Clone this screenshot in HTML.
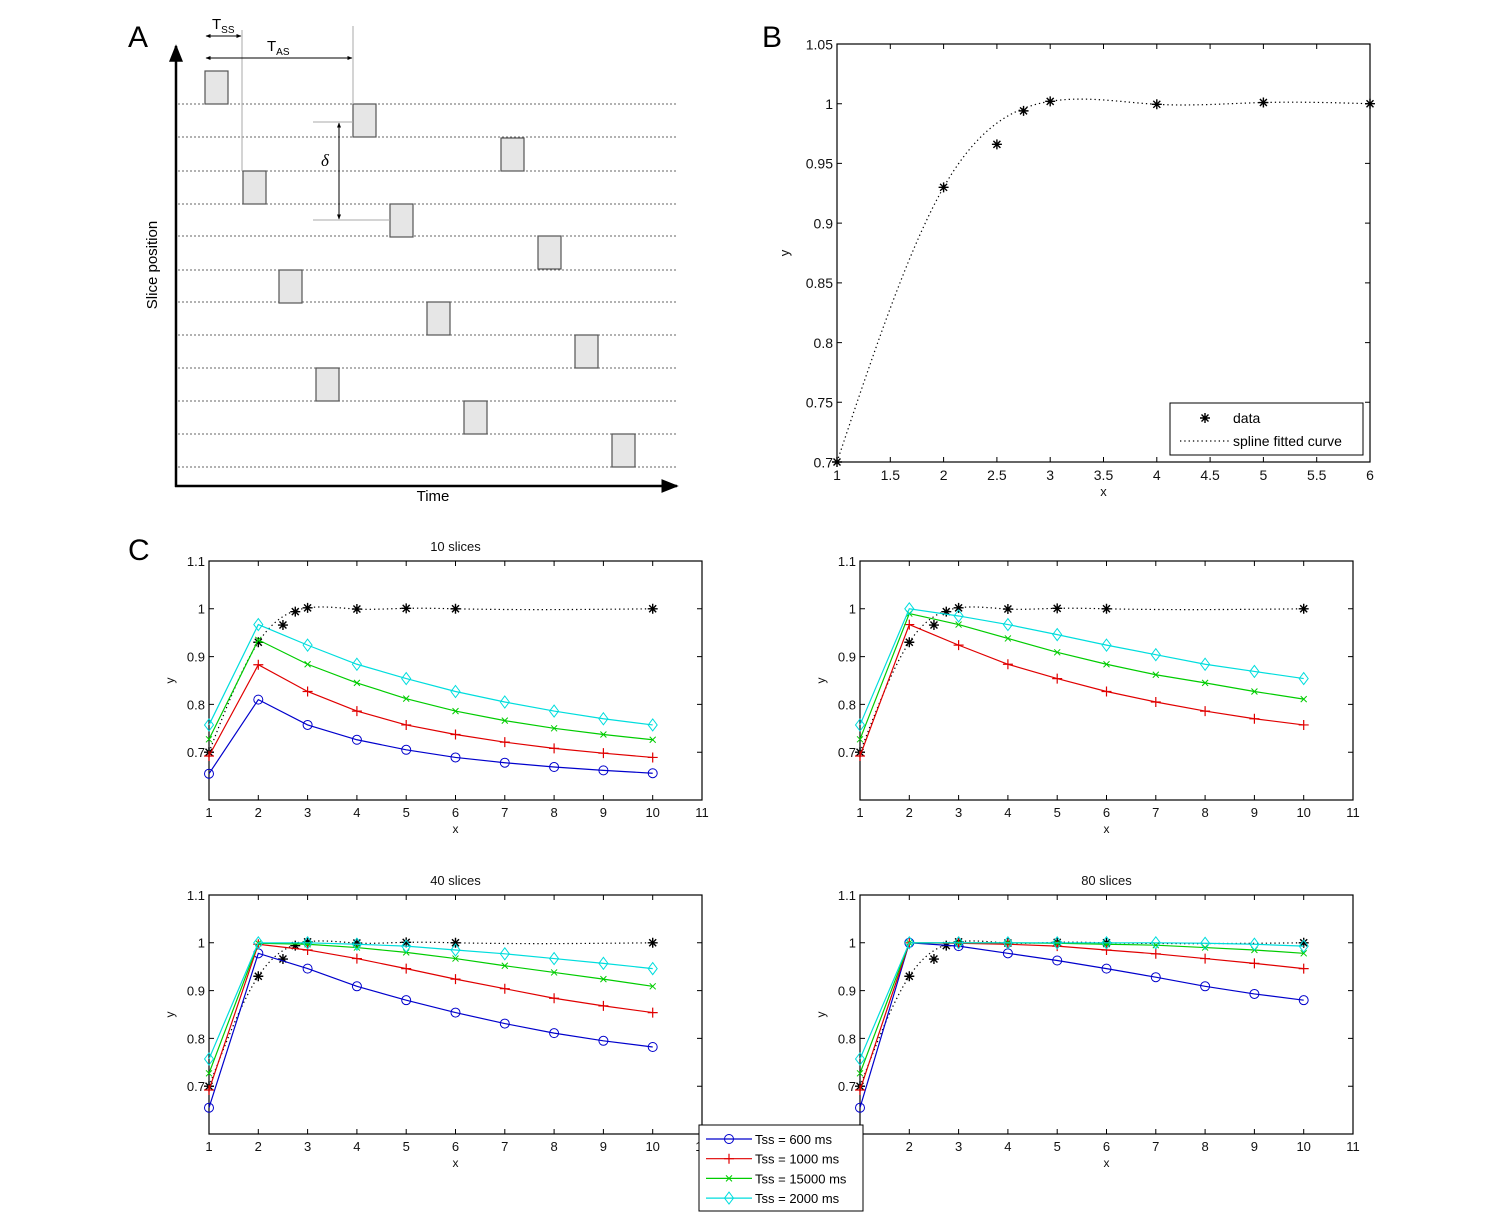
<!DOCTYPE html>
<html><head><meta charset="utf-8">
<style>
html,body{margin:0;padding:0;background:#fff;}
svg{display:block;font-family:"Liberation Sans",sans-serif;}
</style></head>
<body>
<svg id="fig" width="1494" height="1217" viewBox="0 0 1494 1217" xmlns="http://www.w3.org/2000/svg">
<defs>
<marker id="ah" viewBox="0 0 10 10" refX="9" refY="5" markerWidth="7" markerHeight="7" orient="auto-start-reverse"><path d="M0,1 L10,5 L0,9 z" fill="#000"/></marker>
<marker id="ahs" viewBox="0 0 10 10" refX="9" refY="5" markerWidth="5" markerHeight="5" orient="auto-start-reverse"><path d="M0,1 L10,5 L0,9 z" fill="#000"/></marker>
</defs>
<text x="128" y="47" font-size="30">A</text>
<text x="762" y="47" font-size="30">B</text>
<text x="128" y="560" font-size="30">C</text>
<g id="panelA"></g>
<g id="panelB"></g>
<g id="panelC"></g>
</svg>
<script>
// ---------- DATA ----------
const dataX = [1, 2, 2.5, 2.75, 3, 4, 5, 6];
const dataY = [0.7, 0.93, 0.966, 0.994, 1.002, 0.9995, 1.001, 1.0];
const cDataX = [1, 2, 2.5, 2.75, 3, 4, 5, 6, 10];
const cDataY = [0.7, 0.93, 0.966, 0.994, 1.002, 0.9995, 1.001, 1.0, 1.0];
const cX = [1, 2, 3, 4, 5, 6, 7, 8, 9, 10];
const s10Blue  = [0.655, 0.81, 0.757, 0.726, 0.705, 0.689, 0.678, 0.669, 0.662, 0.656];
const s10Red   = [0.692, 0.883, 0.827, 0.786, 0.757, 0.737, 0.721, 0.708, 0.698, 0.689];
const s10Green = [0.727, 0.935, 0.884, 0.845, 0.812, 0.786, 0.766, 0.75, 0.737, 0.726];
const s10Cyan  = [0.757, 0.967, 0.924, 0.884, 0.854, 0.827, 0.805, 0.786, 0.77, 0.757];
const s20Red   = [0.692, 0.967, 0.924, 0.884, 0.854, 0.827, 0.805, 0.786, 0.77, 0.757];
const s20Green = [0.727, 0.99, 0.967, 0.938, 0.909, 0.884, 0.862, 0.845, 0.827, 0.811];
const s20Cyan  = [0.757, 1.0, 0.985, 0.967, 0.946, 0.924, 0.904, 0.884, 0.869, 0.854];
const s40Blue  = [0.655, 0.978, 0.946, 0.909, 0.88, 0.854, 0.831, 0.811, 0.795, 0.782];
const s40Red   = [0.692, 0.997, 0.985, 0.967, 0.946, 0.924, 0.904, 0.884, 0.868, 0.854];
const s40Green = [0.727, 0.999, 0.997, 0.99, 0.98, 0.967, 0.952, 0.938, 0.924, 0.909];
const s40Cyan  = [0.757, 1.0, 1.0, 0.997, 0.993, 0.985, 0.977, 0.967, 0.957, 0.946];
const s80Blue  = [0.655, 1.0, 0.993, 0.978, 0.963, 0.946, 0.928, 0.909, 0.893, 0.88];
const s80Red   = [0.692, 1.0, 0.999, 0.997, 0.993, 0.985, 0.977, 0.967, 0.957, 0.946];
const s80Green = [0.727, 1.0, 1.0, 1.0, 0.999, 0.997, 0.995, 0.99, 0.985, 0.978];
const s80Cyan  = [0.757, 1.0, 1.0, 1.0, 1.0, 1.0, 1.0, 0.999, 0.997, 0.993];
const bXTicks = [1, 1.5, 2, 2.5, 3, 3.5, 4, 4.5, 5, 5.5, 6];
const bYTicks = [0.7, 0.75, 0.8, 0.85, 0.9, 0.95, 1, 1.05];
const cXTicks = [1, 2, 3, 4, 5, 6, 7, 8, 9, 10, 11];
const cYTicks = [0.7, 0.8, 0.9, 1, 1.1];
const legendLabels = ["Tss = 600 ms", "Tss = 1000 ms", "Tss = 15000 ms", "Tss = 2000 ms"];
// indices of data points used as spline knots (smoothed fit skips 2.5, 2.75)
const splineKnots = [0, 1, 4, 5, 6, 7];
const cSplineKnots = [0, 1, 4, 5, 6, 7, 8];

// ---------- helpers ----------
const NS = "http://www.w3.org/2000/svg";
function mk(parent, tag, attrs, text) {
  const e = document.createElementNS(NS, tag);
  for (const k in attrs) e.setAttribute(k, attrs[k]);
  if (text !== undefined) e.textContent = text;
  parent.appendChild(e);
  return e;
}
function fmt(v) { return String(+v.toFixed(2)); }

function spline(xs, ys) {
  const n = xs.length, h = [], a = [], l = [1], mu = [0], z = [0], c = new Array(n).fill(0), b = [], d = [];
  for (let i = 0; i < n - 1; i++) h.push(xs[i + 1] - xs[i]);
  for (let i = 1; i < n - 1; i++) a[i] = 3 / h[i] * (ys[i + 1] - ys[i]) - 3 / h[i - 1] * (ys[i] - ys[i - 1]);
  for (let i = 1; i < n - 1; i++) {
    l[i] = 2 * (xs[i + 1] - xs[i - 1]) - h[i - 1] * mu[i - 1];
    mu[i] = h[i] / l[i];
    z[i] = (a[i] - h[i - 1] * z[i - 1]) / l[i];
  }
  for (let j = n - 2; j >= 0; j--) {
    c[j] = (j === 0 ? 0 : z[j] - mu[j] * c[j + 1]);
    b[j] = (ys[j + 1] - ys[j]) / h[j] - h[j] * (c[j + 1] + 2 * c[j]) / 3;
    d[j] = (c[j + 1] - c[j]) / (3 * h[j]);
  }
  return function (x) {
    let i = 0;
    while (i < n - 2 && x > xs[i + 1]) i++;
    const dx = x - xs[i];
    return ys[i] + b[i] * dx + c[i] * dx * dx + d[i] * dx * dx * dx;
  };
}

function marker(g, type, x, y, color) {
  let e;
  if (type === "o") {
    e = mk(g, "circle", { cx: x, cy: y, r: 4.5, fill: "none", stroke: color, "stroke-width": 1 });
  } else if (type === "+") {
    e = mk(g, "path", { d: `M${x - 5},${y}H${x + 5}M${x},${y - 5}V${y + 5}`, stroke: color, "stroke-width": 1.2, fill: "none" });
  } else if (type === "x") {
    e = mk(g, "path", { d: `M${x - 3},${y - 3}L${x + 3},${y + 3}M${x - 3},${y + 3}L${x + 3},${y - 3}`, stroke: color, "stroke-width": 1, fill: "none" });
  } else if (type === "d") {
    e = mk(g, "path", { d: `M${x},${y - 6}L${x + 4.5},${y}L${x},${y + 6}L${x - 4.5},${y}Z`, stroke: color, "stroke-width": 1, fill: "none" });
  } else {
    e = mk(g, "path", { d: `M${x - 5},${y}H${x + 5}M${x},${y - 5}V${y + 5}M${x - 3.5},${y - 3.5}L${x + 3.5},${y + 3.5}M${x - 3.5},${y + 3.5}L${x + 3.5},${y - 3.5}`, stroke: "#000", "stroke-width": 1.4, fill: "none" });
  }
  
  
}

function axes(g, box, xr, yr, xt, yt, opts) {
  const sx = v => box.l + (v - xr[0]) / (xr[1] - xr[0]) * (box.r - box.l);
  const sy = v => box.b - (v - yr[0]) / (yr[1] - yr[0]) * (box.b - box.t);
  const frame = mk(g, "rect", { x: box.l, y: box.t, width: box.r - box.l, height: box.b - box.t, fill: "none", stroke: "#000", "stroke-width": 1.2 });
  
  
  const fs = opts.fs;
  xt.forEach(v => {
    const x = sx(v);
    mk(g, "path", { d: `M${x},${box.b}V${box.b - 5}M${x},${box.t}V${box.t + 5}`, stroke: "#000", "stroke-width": 1 });
    const t = mk(g, "text", { x: x, y: box.b + fs + 4, "font-size": fs, "text-anchor": "middle", fill: "#111" }, fmt(v));
    
    
  });
  yt.forEach(v => {
    const y = sy(v);
    mk(g, "path", { d: `M${box.l},${y}H${box.l + 5}M${box.r},${y}H${box.r - 5}`, stroke: "#000", "stroke-width": 1 });
    const t = mk(g, "text", { x: box.l - 4, y: y + fs * 0.38, "font-size": fs, "text-anchor": "end", fill: "#111" }, fmt(v));
    
    
  });
  const xl = mk(g, "text", { x: (box.l + box.r) / 2, y: box.b + fs + 20, "font-size": fs - 1, "text-anchor": "middle", fill: "#111" }, "x");
  
  
  const yx = box.l - opts.ylab, yy = (box.t + box.b) / 2;
  const yl = mk(g, "text", { x: yx, y: yy, "font-size": fs - 1, "text-anchor": "middle", fill: "#111", transform: `rotate(-90 ${yx} ${yy})` }, "y");
  
  
  if (opts.title) {
    const tt = mk(g, "text", { x: (box.l + box.r) / 2, y: box.t - 10, "font-size": 13, "text-anchor": "middle", fill: "#111" }, opts.title);
    
    
  }
  return { sx, sy };
}

function splinePath(g, s, xs, ys, knots, x0, x1) {
  const f = spline(knots.map(i => xs[i]), knots.map(i => ys[i]));
  let d = "";
  for (let i = 0; i <= 300; i++) {
    const x = x0 + (x1 - x0) * i / 300;
    d += (i ? "L" : "M") + s.sx(x).toFixed(2) + "," + s.sy(f(x)).toFixed(2);
  }
  const p = mk(g, "path", { d: d, fill: "none", stroke: "#000", "stroke-width": 1.2, "stroke-dasharray": "1.3 3" });
  
  
}

// ---------- Panel A ----------
(function () {
  const g = document.getElementById("panelA");
  const lineYs = [104, 137, 171, 204, 236, 270, 302, 335, 368, 401, 434, 467];
  lineYs.forEach(y => {
    const l = mk(g, "line", { x1: 178, y1: y, x2: 678, y2: y, stroke: "#666", "stroke-width": 1, "stroke-dasharray": "2 2" });
    
    
  });
  const boxes = [[205,71],[353,104],[501,138],[243,171],[390,204],[538,236],[279,270],[427,302],[575,335],[316,368],[464,401],[612,434]];
  boxes.forEach(b => {
    const r = mk(g, "rect", { x: b[0], y: b[1], width: 23, height: 33, fill: "#e6e6e6", stroke: "#555", "stroke-width": 1.2 });
    
    
  });
  mk(g, "path", { d: "M242,30V171M353,26V104", stroke: "#aaa", "stroke-width": 1, fill: "none" });
  mk(g, "path", { d: "M313,122H353M313,220H390", stroke: "#aaa", "stroke-width": 1, fill: "none" });
  mk(g, "line", { x1: 206, y1: 36, x2: 241, y2: 36, stroke: "#000", "stroke-width": 1, "marker-start": "url(#ahs)", "marker-end": "url(#ahs)" });
  mk(g, "line", { x1: 206, y1: 58, x2: 352, y2: 58, stroke: "#000", "stroke-width": 1, "marker-start": "url(#ahs)", "marker-end": "url(#ahs)" });
  mk(g, "line", { x1: 339, y1: 123, x2: 339, y2: 219, stroke: "#000", "stroke-width": 1, "marker-start": "url(#ahs)", "marker-end": "url(#ahs)" });
  const ts = mk(g, "text", { x: 212, y: 29, "font-size": 15 }); ts.innerHTML = 'T<tspan font-size="10" dy="4">SS</tspan>';
   
  const ta = mk(g, "text", { x: 267, y: 51, "font-size": 15 }); ta.innerHTML = 'T<tspan font-size="10" dy="4">AS</tspan>';
   
  const dl = mk(g, "text", { x: 321, y: 166, "font-size": 17, "font-style": "italic", "font-family": "Liberation Serif, serif" }, "δ");
   
  mk(g, "line", { x1: 176, y1: 487, x2: 176, y2: 46, stroke: "#000", "stroke-width": 2.5, "marker-end": "url(#ah)" });
  mk(g, "line", { x1: 175, y1: 486, x2: 677, y2: 486, stroke: "#000", "stroke-width": 2.5, "marker-end": "url(#ah)" });
  const yl = mk(g, "text", { x: 157, y: 265, "font-size": 15, "text-anchor": "middle", transform: "rotate(-90 157 265)" }, "Slice position");
   
  const xl = mk(g, "text", { x: 433, y: 501, "font-size": 15, "text-anchor": "middle" }, "Time");
   
})();

// ---------- Panel B ----------
(function () {
  const g = document.getElementById("panelB");
  const s = axes(g, { l: 837, r: 1370, t: 44, b: 462 }, [1, 6], [0.7, 1.05], bXTicks, bYTicks, { fs: 14, ylab: 48 });
  splinePath(g, s, dataX, dataY, splineKnots, 1, 6);
  dataX.forEach((x, i) => marker(g, "*", s.sx(x), s.sy(dataY[i]), "#000"));
  const lg = mk(g, "g", {});
   
  mk(lg, "rect", { x: 1170, y: 403, width: 193, height: 52, fill: "#fff", stroke: "#000", "stroke-width": 1 });
  marker(lg, "*", 1205, 418, "#000");
  mk(lg, "text", { x: 1233, y: 423, "font-size": 14 }, "data");
  mk(lg, "line", { x1: 1180, y1: 441, x2: 1230, y2: 441, stroke: "#000", "stroke-dasharray": "1.3 3", "stroke-width": 1.2 });
  mk(lg, "text", { x: 1233, y: 446, "font-size": 14 }, "spline fitted curve");
})();

// ---------- Panel C ----------
(function () {
  const g = document.getElementById("panelC");
  const colors = ["#0000cc", "#e00000", "#00cc00", "#00dddd"];
  const marks = ["o", "+", "x", "d"];
  const panels = [
    { box: { l: 209, r: 702, t: 561, b: 800 }, title: "10 slices", series: [s10Blue, s10Red, s10Green, s10Cyan] },
    { box: { l: 860, r: 1353, t: 561, b: 800 }, title: "", series: [null, s20Red, s20Green, s20Cyan] },
    { box: { l: 209, r: 702, t: 895, b: 1134 }, title: "40 slices", series: [s40Blue, s40Red, s40Green, s40Cyan] },
    { box: { l: 860, r: 1353, t: 895, b: 1134 }, title: "80 slices", series: [s80Blue, s80Red, s80Green, s80Cyan] }
  ];
  panels.forEach(p => {
    const sg = mk(g, "g", {});
    
    
    const s = axes(sg, p.box, [1, 11], [0.6, 1.1], cXTicks, cYTicks, { fs: 13, ylab: 35, title: p.title });
    splinePath(sg, s, cDataX, cDataY, cSplineKnots, 1, 10);
    cDataX.forEach((x, i) => marker(sg, "*", s.sx(x), s.sy(cDataY[i]), "#000"));
    p.series.forEach((ser, k) => {
      if (!ser) return;
      const pts = cX.map((x, i) => s.sx(x).toFixed(2) + "," + s.sy(ser[i]).toFixed(2)).join(" ");
      const pl = mk(sg, "polyline", { points: pts, fill: "none", stroke: colors[k], "stroke-width": 1.2 });
      
      
      cX.forEach((x, i) => marker(sg, marks[k], s.sx(x), s.sy(ser[i]), colors[k]));
    });
  });
  const lg = mk(g, "g", {});
   
  mk(lg, "rect", { x: 699, y: 1125, width: 164, height: 86, fill: "#fff", stroke: "#000", "stroke-width": 1 });
  legendLabels.forEach((lab, k) => {
    const y = 1139 + k * 19.7;
    mk(lg, "line", { x1: 706, y1: y, x2: 752, y2: y, stroke: colors[k], "stroke-width": 1.2 });
    marker(lg, marks[k], 729, y, colors[k]);
    const t = mk(lg, "text", { x: 755, y: y + 5, "font-size": 13 }, lab);
    
    
  });
})();
</script>
</body></html>
